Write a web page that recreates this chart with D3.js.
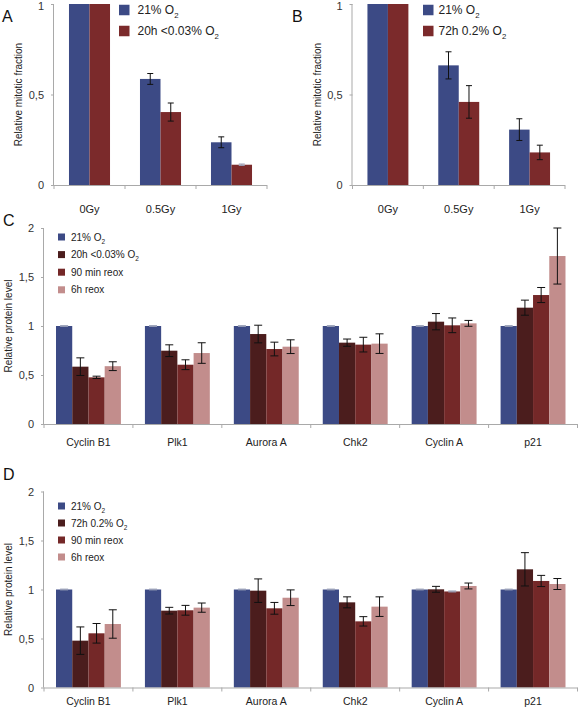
<!DOCTYPE html>
<html><head><meta charset="utf-8">
<script src="https://cdn.jsdelivr.net/npm/d3@7"></script>
<style>
html,body{margin:0;padding:0;background:#fff;}
svg{display:block;font-family:"Liberation Sans",Arial,sans-serif;}
</style></head>
<body>
<svg id="chart" width="578" height="708"></svg>
<script>
// ---------- DATA ----------
const doseCats = ["0Gy", "0.5Gy", "1Gy"];
const aNormoxia = [1, 0.586, 0.236];
const aNormoxiaErr = [0, 0.03, 0.03];
const aHypoxia = [1, 0.403, 0.112];
const aHypoxiaErr = [0, 0.05, 0.004];
const bNormoxia = [1, 0.661, 0.306];
const bNormoxiaErr = [0, 0.075, 0.06];
const bHypoxia = [1, 0.459, 0.18];
const bHypoxiaErr = [0, 0.09, 0.04];
const abTicks = [0, 0.5, 1];
const abTickLabels = ["0", "0,5", "1"];

const proteins = ["Cyclin B1", "Plk1", "Aurora A", "Chk2", "Cyclin A", "p21"];
const c21 = [1, 1, 1, 1, 1, 1];
const c21Err = [0.004, 0.004, 0.004, 0.004, 0.004, 0.004];
const cHyp = [0.585, 0.748, 0.918, 0.83, 1.044, 1.187];
const cHypErr = [0.09, 0.06, 0.09, 0.037, 0.083, 0.077];
const c90 = [0.476, 0.605, 0.765, 0.81, 1.007, 1.316];
const c90Err = [0.012, 0.05, 0.07, 0.075, 0.075, 0.077];
const c6h = [0.59, 0.724, 0.789, 0.82, 1.027, 1.714];
const c6hErr = [0.045, 0.105, 0.07, 0.1, 0.03, 0.286];

const d21 = [1, 1, 1, 1, 1, 1];
const d21Err = [0.004, 0.004, 0.004, 0.004, 0.004, 0.004];
const dHyp = [0.478, 0.784, 0.988, 0.869, 1.002, 1.206];
const dHypErr = [0.14, 0.034, 0.12, 0.056, 0.03, 0.17];
const d90 = [0.553, 0.788, 0.808, 0.675, 0.98, 1.087];
const d90Err = [0.1, 0.05, 0.06, 0.048, 0.005, 0.057];
const d6h = [0.648, 0.815, 0.916, 0.825, 1.036, 1.056];
const d6hErr = [0.145, 0.047, 0.08, 0.1, 0.03, 0.056];
const cdTicks = [0, 0.5, 1, 1.5, 2];
const cdTickLabels = ["0", "0,5", "1", "1,5", "2"];

// legend labels: [main text, subscript]
const aLegend = [["21% O", "2"], ["20h <0.03% O", "2"]];
const bLegend = [["21% O", "2"], ["72h 0.2% O", "2"]];
const cLegend = [["21% O", "2"], ["20h <0.03% O", "2"], ["90 min reox", ""], ["6h reox", ""]];
const dLegend = [["21% O", "2"], ["72h 0.2% O", "2"], ["90 min reox", ""], ["6h reox", ""]];

const colBlue = "#3c4a85", colRedAB = "#7b2a2b";
const colBrown = "#4b1d1d", colRed = "#742828", colPink = "#c28d8c";

// ---------- DRAW ----------
const svg = d3.select("#chart");
const axisCol = "#a9a9a9";

function panel(o) {
  const g = svg.append("g");
  const x = d3.scaleBand().domain(o.cats).range(o.xr).padding(0);
  const seriesIdx = o.series.map((_, i) => i);
  const xs = d3.scaleBand().domain(seriesIdx).range([0, x.bandwidth()]).paddingInner(0).paddingOuter(o.outer);
  const y = d3.scaleLinear().domain(o.ydom).range(o.yr);

  // bars
  o.series.forEach((s, si) => {
    g.selectAll(null).data(s.values).enter().append("rect")
      .attr("x", (d, i) => x(o.cats[i]) + xs(si))
      .attr("y", d => y(d))
      .attr("width", xs.bandwidth())
      .attr("height", d => y(0) - y(d))
      .attr("fill", s.color);
  });
  // error bars
  o.series.forEach((s, si) => {
    s.values.forEach((v, i) => {
      const e = s.err[i];
      if (e <= 0) return;
      const cx = x(o.cats[i]) + xs(si) + xs.bandwidth() / 2;
      const col = e < 0.006 ? "#9aa0b8" : "#111";
      g.append("line").attr("x1", cx).attr("x2", cx).attr("y1", y(v + e)).attr("y2", y(v - e))
        .attr("stroke", col).attr("stroke-width", 1);
      [v + e, v - e].forEach(yy => {
        g.append("line").attr("x1", cx - o.cap).attr("x2", cx + o.cap).attr("y1", y(yy)).attr("y2", y(yy))
          .attr("stroke", col).attr("stroke-width", 1);
      });
    });
  });

  // y axis
  const ya = g.append("g").attr("transform", `translate(${o.xr[0]},0)`)
    .call(d3.axisLeft(y).tickValues(o.ticks).tickFormat((d, i) => o.tickLabels[i]).tickSize(3).tickPadding(7));
  ya.select(".domain").attr("stroke", axisCol).attr("d", `M-0.5,${o.yr[0]}V${o.yr[1]}`);
  ya.selectAll(".tick line").attr("stroke", axisCol);
  ya.selectAll(".tick text").attr("fill", "#333").attr("font-size", o.tickFont).attr("font-family", "Liberation Sans, Arial, sans-serif")
    .attr("y", d => (y(d) < 8 ? 1.5 : 0));

  // x axis
  const xa = g.append("g").attr("transform", `translate(0,${o.yr[0]})`)
    .call(d3.axisBottom(x).tickSize(0).tickPadding(o.xLabPad));
  xa.select(".domain").attr("stroke", axisCol).attr("d", `M${o.xr[0]},0.5H${o.xr[1]}`);
  xa.selectAll(".tick text").attr("fill", "#222").attr("font-size", o.xFont).attr("font-family", "Liberation Sans, Arial, sans-serif");
  // boundary ticks
  const bounds = [o.xr[0]].concat(o.cats.map(c => x(c) + x.bandwidth()));
  g.selectAll(null).data(bounds).enter().append("line")
    .attr("x1", d => d).attr("x2", d => d).attr("y1", o.yr[0]).attr("y2", o.yr[0] + 4)
    .attr("stroke", axisCol);

  // y title
  g.append("text").attr("transform", `translate(${o.titleX},${(o.yr[0] + o.yr[1]) / 2}) rotate(-90)`)
    .attr("text-anchor", "middle").attr("font-size", o.titleFont).attr("fill", "#222").text(o.title);

  // panel letter
  g.append("text").attr("x", o.letterX).attr("y", o.letterY).attr("font-size", o.letterFont)
    .attr("fill", "#111").text(o.letter);

  // legend
  o.legend.forEach((L, i) => {
    const cy = o.legY + i * o.legStep;
    g.append("rect").attr("x", o.legX).attr("y", cy - o.legSq / 2).attr("width", o.legSq).attr("height", o.legSq)
      .attr("fill", o.series[i].color);
    const t = g.append("text").attr("x", o.legX + o.legSq + o.legGap).attr("y", cy + o.legFont * 0.36)
      .attr("font-size", o.legFont).attr("fill", "#222");
    t.append("tspan").text(L[0]);
    if (L[1]) t.append("tspan").attr("dy", o.legFont * 0.3).attr("font-size", o.legFont * 0.65).text(L[1]);
  });
}

panel({
  cats: doseCats, xr: [54, 267], yr: [185, 4], ydom: [0, 1], outer: 0.73, cap: 3,
  series: [{values: aNormoxia, err: aNormoxiaErr, color: colBlue}, {values: aHypoxia, err: aHypoxiaErr, color: colRedAB}],
  ticks: abTicks, tickLabels: abTickLabels, tickFont: 11, xFont: 11, xLabPad: 20,
  title: "Relative mitotic fraction", titleX: 22, titleFont: 10,
  letter: "A", letterX: 2, letterY: 22, letterFont: 16,
  legend: aLegend, legX: 119, legY: 10, legStep: 21, legSq: 10.5, legGap: 8, legFont: 12
});
panel({
  cats: doseCats, xr: [352.5, 565], yr: [185, 4], ydom: [0, 1], outer: 0.73, cap: 3,
  series: [{values: bNormoxia, err: bNormoxiaErr, color: colBlue}, {values: bHypoxia, err: bHypoxiaErr, color: colRedAB}],
  ticks: abTicks, tickLabels: abTickLabels, tickFont: 11, xFont: 11, xLabPad: 20,
  title: "Relative mitotic fraction", titleX: 321, titleFont: 10,
  letter: "B", letterX: 292, letterY: 22, letterFont: 16,
  legend: bLegend, legX: 423, legY: 10, legStep: 21, legSq: 10.5, legGap: 5, legFont: 12
});
panel({
  cats: proteins, xr: [44, 577.5], yr: [424, 228], ydom: [0, 2], outer: 0.74, cap: 4,
  series: [{values: c21, err: c21Err, color: colBlue}, {values: cHyp, err: cHypErr, color: colBrown},
           {values: c90, err: c90Err, color: colRed}, {values: c6h, err: c6hErr, color: colPink}],
  ticks: cdTicks, tickLabels: cdTickLabels, tickFont: 11, xFont: 10.5, xLabPad: 15,
  title: "Relative protein level", titleX: 12, titleFont: 10,
  letter: "C", letterX: 3, letterY: 226, letterFont: 16,
  legend: cLegend, legX: 58, legY: 237, legStep: 17.6, legSq: 7, legGap: 6, legFont: 10
});
panel({
  cats: proteins, xr: [44, 577.5], yr: [687.5, 491.5], ydom: [0, 2], outer: 0.74, cap: 4,
  series: [{values: d21, err: d21Err, color: colBlue}, {values: dHyp, err: dHypErr, color: colBrown},
           {values: d90, err: d90Err, color: colRed}, {values: d6h, err: d6hErr, color: colPink}],
  ticks: cdTicks, tickLabels: cdTickLabels, tickFont: 11, xFont: 10.5, xLabPad: 10,
  title: "Relative protein level", titleX: 12, titleFont: 10,
  letter: "D", letterX: 3, letterY: 480, letterFont: 16,
  legend: dLegend, legX: 58, legY: 506, legStep: 17, legSq: 7, legGap: 6, legFont: 10
});
</script>
</body></html>
